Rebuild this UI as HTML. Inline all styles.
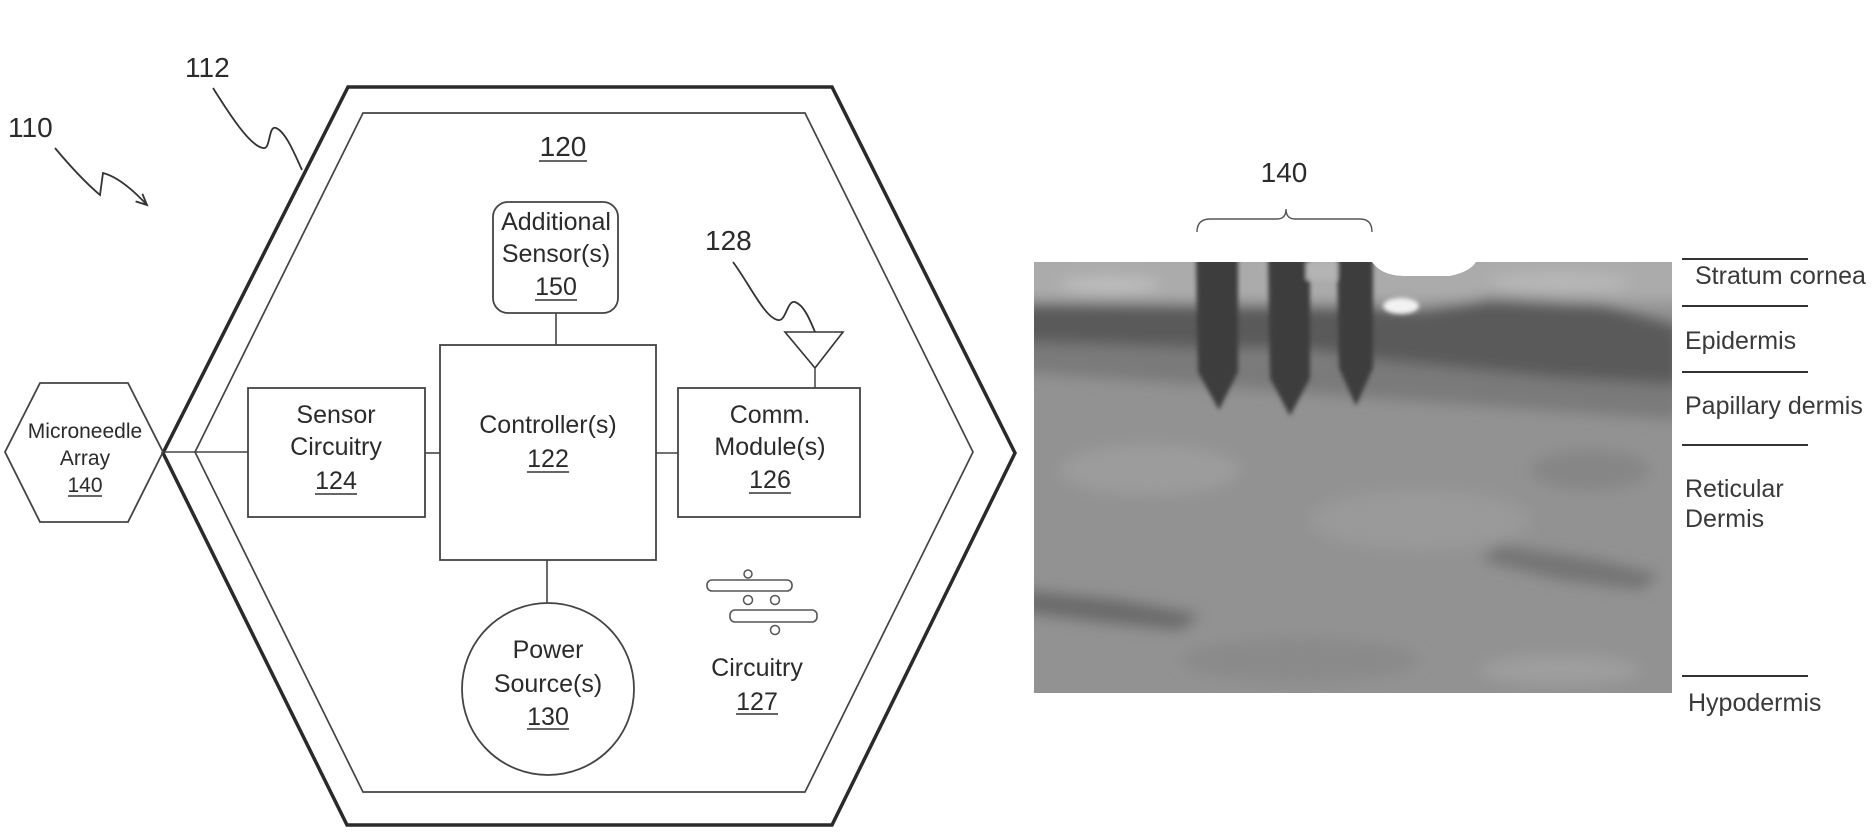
<!DOCTYPE html>
<html>
<head>
<meta charset="utf-8">
<style>
html,body{margin:0;padding:0;background:#fff;}
body{width:1876px;height:833px;overflow:hidden;}
svg{display:block;}
text{font-family:"Liberation Sans",Arial,sans-serif;fill:#2b2b2b;}
</style>
</head>
<body>
<svg width="1876" height="833" viewBox="0 0 1876 833" xmlns="http://www.w3.org/2000/svg">
<defs>
  <clipPath id="pc">
    <path d="M1034,262 L1372,262 Q1382,276 1404,276 L1450,276 Q1470,272 1476,262 L1672,262 L1672,693 L1034,693 Z"/>
  </clipPath>
  <filter id="bl" x="-10%" y="-10%" width="120%" height="120%"><feGaussianBlur stdDeviation="7"/></filter>
  <filter id="bl2" x="-10%" y="-10%" width="120%" height="120%"><feGaussianBlur stdDeviation="2"/></filter>
</defs>

<rect x="0" y="0" width="1876" height="833" fill="#fff"/>

<!-- Outer and inner hexagons -->
<polygon points="348,87 832,87 1015,453 832,825 347,825 163,453" fill="none" stroke="#2a2a2a" stroke-width="3.5" stroke-linejoin="miter"/>
<polygon points="363,113 805,113 973,452 805,792 363,792 195,452" fill="none" stroke="#444" stroke-width="1.7"/>

<!-- Microneedle array hexagon -->
<polygon points="40,383 128,383 163,452 128,522 40,522 5,452" fill="none" stroke="#444" stroke-width="1.8"/>
<text x="85" y="438" font-size="21" text-anchor="middle">Microneedle</text>
<text x="85" y="465" font-size="21" text-anchor="middle">Array</text>
<text x="85" y="492" font-size="21" text-anchor="middle">140</text>
<line x1="68" y1="496" x2="102" y2="496" stroke="#333" stroke-width="1.5"/>

<!-- Reference labels -->
<text x="8" y="137" font-size="28">110</text>
<path d="M55,148 Q80,178 100,195 L103,173 Q122,178 147,205" fill="none" stroke="#333" stroke-width="1.8"/>
<path d="M135.6,201.4 L147,205 L142.4,193.9" fill="none" stroke="#333" stroke-width="1.8"/>

<text x="185" y="77" font-size="28">112</text>
<path d="M213,88 C230,115 250,146 263,148 C271,150 268,125 276,128 C286,132 295,155 302,170" fill="none" stroke="#333" stroke-width="1.8"/>

<text x="563" y="156" font-size="28" text-anchor="middle">120</text>
<line x1="539" y1="161" x2="587" y2="161" stroke="#333" stroke-width="1.6"/>

<!-- Additional sensors -->
<rect x="493" y="202" width="125" height="111" rx="15" ry="15" fill="none" stroke="#444" stroke-width="1.8"/>
<text x="556" y="230" font-size="25" text-anchor="middle">Additional</text>
<text x="556" y="262" font-size="25" text-anchor="middle">Sensor(s)</text>
<text x="556" y="295" font-size="25" text-anchor="middle">150</text>
<line x1="535" y1="300" x2="577" y2="300" stroke="#333" stroke-width="1.6"/>
<line x1="556" y1="313" x2="556" y2="345" stroke="#444" stroke-width="1.6"/>

<!-- Controller -->
<rect x="440" y="345" width="216" height="215" fill="none" stroke="#444" stroke-width="1.8"/>
<text x="548" y="433" font-size="25" text-anchor="middle">Controller(s)</text>
<text x="548" y="467" font-size="25" text-anchor="middle">122</text>
<line x1="527" y1="472" x2="569" y2="472" stroke="#333" stroke-width="1.6"/>

<!-- Sensor circuitry -->
<rect x="248" y="388" width="177" height="129" fill="none" stroke="#444" stroke-width="1.8"/>
<text x="336" y="423" font-size="25" text-anchor="middle">Sensor</text>
<text x="336" y="455" font-size="25" text-anchor="middle">Circuitry</text>
<text x="336" y="489" font-size="25" text-anchor="middle">124</text>
<line x1="315" y1="494" x2="357" y2="494" stroke="#333" stroke-width="1.6"/>

<!-- Comm module -->
<rect x="678" y="388" width="182" height="129" fill="none" stroke="#444" stroke-width="1.8"/>
<text x="770" y="423" font-size="25" text-anchor="middle">Comm.</text>
<text x="770" y="455" font-size="25" text-anchor="middle">Module(s)</text>
<text x="770" y="488" font-size="25" text-anchor="middle">126</text>
<line x1="749" y1="493" x2="791" y2="493" stroke="#333" stroke-width="1.6"/>

<!-- Antenna 128 -->
<polygon points="785,332 843,332 815,368" fill="none" stroke="#333" stroke-width="1.6"/>
<line x1="815" y1="368" x2="815" y2="388" stroke="#444" stroke-width="1.5"/>
<text x="705" y="250" font-size="28">128</text>
<path d="M733,262 C750,285 765,318 778,320 C786,322 787,300 795,302 C804,305 810,320 815,332" fill="none" stroke="#333" stroke-width="1.8"/>

<!-- Connectors -->
<line x1="163" y1="452" x2="248" y2="452" stroke="#444" stroke-width="1.6"/>
<line x1="425" y1="453" x2="440" y2="453" stroke="#444" stroke-width="1.6"/>
<line x1="656" y1="453" x2="678" y2="453" stroke="#444" stroke-width="1.6"/>
<line x1="547" y1="560" x2="547" y2="603" stroke="#444" stroke-width="1.6"/>

<!-- Power source -->
<circle cx="548" cy="689" r="86" fill="none" stroke="#444" stroke-width="1.8"/>
<text x="548" y="658" font-size="25" text-anchor="middle">Power</text>
<text x="548" y="692" font-size="25" text-anchor="middle">Source(s)</text>
<text x="548" y="725" font-size="25" text-anchor="middle">130</text>
<line x1="527" y1="729" x2="569" y2="729" stroke="#333" stroke-width="1.6"/>

<!-- Circuitry icon -->
<circle cx="748" cy="574" r="4" fill="none" stroke="#555" stroke-width="1.5"/>
<rect x="707" y="580" width="85" height="11" rx="5" fill="none" stroke="#555" stroke-width="1.6"/>
<circle cx="748" cy="600" r="4.5" fill="none" stroke="#555" stroke-width="1.5"/>
<circle cx="775" cy="600" r="4.5" fill="none" stroke="#555" stroke-width="1.5"/>
<rect x="730" y="610" width="87" height="12" rx="5" fill="none" stroke="#555" stroke-width="1.6"/>
<circle cx="775" cy="630" r="4.5" fill="none" stroke="#555" stroke-width="1.5"/>
<text x="757" y="676" font-size="25" text-anchor="middle">Circuitry</text>
<text x="757" y="710" font-size="25" text-anchor="middle">127</text>
<line x1="736" y1="714" x2="778" y2="714" stroke="#333" stroke-width="1.6"/>

<!-- Right: photo label and bracket -->
<text x="1284" y="182" font-size="28" text-anchor="middle">140</text>
<path d="M1197,232 Q1197,219 1210,219 L1277,219 Q1286,219 1286,209 Q1286,219 1295,219 L1360,219 Q1372,219 1372,232" fill="none" stroke="#555" stroke-width="1.4"/>

<!-- Photo (skin micrograph approximation) -->
<g clip-path="url(#pc)">
  <rect x="1030" y="255" width="650" height="445" fill="#929292"/>
  <g filter="url(#bl)">
    <!-- stratum corneum lighter band -->
    <rect x="1020" y="250" width="670" height="52" fill="#ababab"/>
    <ellipse cx="1110" cy="285" rx="50" ry="8" fill="#bdbdbd"/>
    <ellipse cx="1560" cy="282" rx="70" ry="9" fill="#b8b8b8"/>
    <!-- epidermis dark band -->
    <path d="M1020,302 L1200,305 L1380,308 L1420,311 L1490,298 L1600,304 L1680,326 L1680,385 L1560,378 L1450,372 L1380,360 L1300,350 L1200,348 L1120,345 L1020,342 Z" fill="#5a5a5a"/>
    <!-- transition -->
    <path d="M1020,342 L1200,348 L1380,360 L1560,378 L1680,385 L1680,420 L1400,400 L1200,385 L1020,372 Z" fill="#7a7a7a"/>
    <!-- dermis variations -->
    <ellipse cx="1150" cy="470" rx="90" ry="25" fill="#9c9c9c"/>
    <ellipse cx="1420" cy="520" rx="110" ry="30" fill="#9a9a9a"/>
    <ellipse cx="1590" cy="470" rx="60" ry="20" fill="#868686"/>
    <path d="M1020,590 L1120,600 L1200,615 L1180,630 L1100,622 L1020,612 Z" fill="#6a6a6a"/>
    <path d="M1500,545 L1600,560 L1660,575 L1640,590 L1560,580 L1480,560 Z" fill="#747474"/>
    <ellipse cx="1300" cy="660" rx="120" ry="22" fill="#8a8a8a"/>
    <ellipse cx="1560" cy="670" rx="80" ry="15" fill="#9e9e9e"/>
  </g>
  <g filter="url(#bl2)">
    <!-- microneedles -->
    <path d="M1196,258 L1238,258 L1238,372 L1219,410 L1198,372 Z" fill="#3e3e3e"/>
    <path d="M1268,258 L1310,258 L1310,378 L1290,416 L1270,378 Z" fill="#3c3c3c"/>
    <path d="M1337,258 L1373,258 L1373,368 L1356,406 L1339,368 Z" fill="#3e3e3e"/>
    <rect x="1306" y="262" width="32" height="18" fill="#b4b4b4"/>
    <ellipse cx="1401" cy="306" rx="18" ry="8" fill="#f2f2f2"/>
  </g>
</g>

<!-- Layer lines -->
<g stroke="#333" stroke-width="2">
  <line x1="1682" y1="259" x2="1808" y2="259"/>
  <line x1="1682" y1="306" x2="1808" y2="306"/>
  <line x1="1682" y1="372" x2="1808" y2="372"/>
  <line x1="1682" y1="445" x2="1808" y2="445"/>
  <line x1="1682" y1="676" x2="1808" y2="676"/>
</g>
<g font-size="25">
  <text x="1695" y="284" style="fill:#3a3a3a">Stratum cornea</text>
  <text x="1685" y="349" style="fill:#3a3a3a">Epidermis</text>
  <text x="1685" y="414" style="fill:#3a3a3a">Papillary dermis</text>
  <text x="1685" y="497" style="fill:#3a3a3a">Reticular</text>
  <text x="1685" y="527" style="fill:#3a3a3a">Dermis</text>
  <text x="1688" y="711" style="fill:#3a3a3a">Hypodermis</text>
</g>
</svg>
</body>
</html>
